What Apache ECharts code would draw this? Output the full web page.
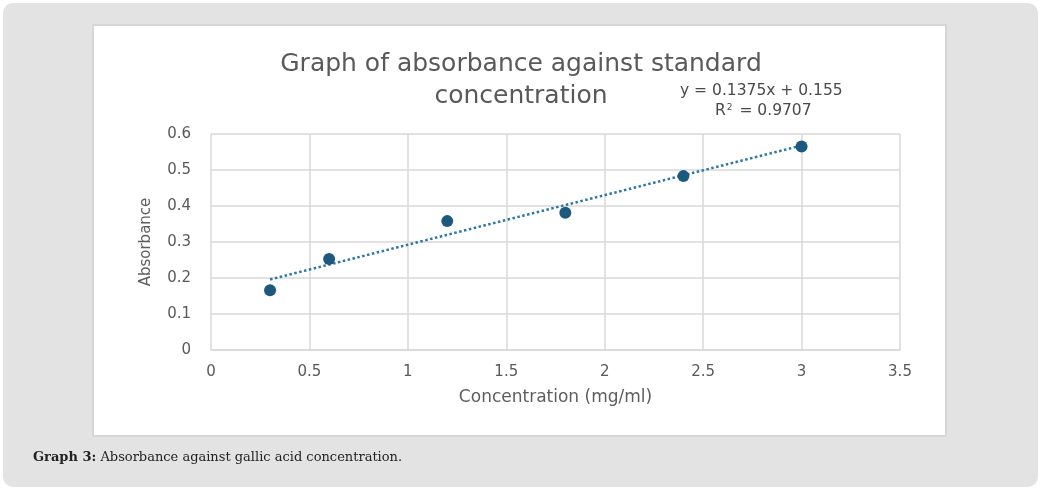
<!DOCTYPE html>
<html><head><meta charset="utf-8">
<script src="https://cdn.jsdelivr.net/npm/echarts@6/dist/echarts.min.js"></script>
<style>html,body{margin:0;padding:0;background:#fff;}#c{width:1044px;height:492px;}</style>
</head><body><div id="c"></div>
<script>
const concentration = [0.3, 0.6, 1.2, 1.8, 2.4, 3.0];
const absorbance = [0.166, 0.253, 0.358, 0.381, 0.483, 0.565];
const trendX = [0.3, 3.0];
const trendY = [0.196, 0.568];
const titleText = 'Graph of absorbance against standard\nconcentration';
const eqText = 'y = 0.1375x + 0.155';
const r2Text = 'R{s|2} = 0.9707';
const captionBold = 'Graph 3:';
const captionRest = ' Absorbance against gallic acid concentration.';

const font = '"DejaVu Sans", sans-serif';
const serif = '"DejaVu Serif", serif';
const grey = '#595959';
const chart = echarts.init(document.getElementById('c'));
chart.setOption({
  animation: false,
  graphic: [
    {type:'rect', shape:{x:3,y:3,width:1035,height:484,r:10}, style:{fill:'#e3e3e3'}, z:-10},
    {type:'rect', shape:{x:93,y:25,width:853,height:411}, style:{fill:'#fff', stroke:'#d6d6d6', lineWidth:2}, z:-9},
    {type:'text', x:33, y:451, style:{text:'{b|'+captionBold+'}'+captionRest, fontFamily:serif, fontSize:13, fill:'#222',
      rich:{b:{fontWeight:'bold', fontFamily:serif, fontSize:13, fill:'#222'}}}},
    {type:'text', x:521, y:48, style:{text:titleText, textAlign:'center', fontFamily:font, fontSize:25, fill:grey, lineHeight:32}},
    {type:'text', x:680, y:83, style:{text:eqText, fontFamily:font, fontSize:15.5, fill:'#4a4a4a'}},
    {type:'text', x:715, y:103, style:{text:r2Text, fontFamily:font, fontSize:15.5, fill:'#4a4a4a',
      rich:{s:{fontSize:9, fontFamily:font, verticalAlign:'top', fill:'#4a4a4a', padding:[0,2,7,1]}}}}
  ],
  grid: {left:211, right:144, top:134, bottom:142, containLabel:false},
  xAxis: {
    type:'value', min:0, max:3.5, interval:0.5,
    name:'Concentration (mg/ml)', nameLocation:'middle', nameGap:39,
    nameTextStyle:{color:'#5e5e5e', fontSize:17, fontFamily:font},
    axisLine:{show:true, lineStyle:{color:'#d9d9d9', width:1.5}},
    axisTick:{show:false},
    axisLabel:{color:grey, fontSize:15, fontFamily:font, margin:15, formatter:v=>String(v)},
    splitLine:{show:true, lineStyle:{color:'#d9d9d9', width:1.5}}
  },
  yAxis: {
    type:'value', min:0, max:0.6, interval:0.1,
    name:'Absorbance', nameLocation:'middle', nameGap:57,
    nameTextStyle:{color:'#5e5e5e', fontSize:15, fontFamily:font},
    axisLine:{show:false},
    axisTick:{show:false},
    axisLabel:{color:grey, fontSize:15, fontFamily:font, margin:20, formatter:v=>String(+v.toFixed(1))},
    splitLine:{show:true, lineStyle:{color:'#d9d9d9', width:1.5}}
  },
  series: [
    {type:'line', data: trendX.map((x,i)=>[x, trendY[i]]), symbol:'none',
      lineStyle:{type:'dotted', width:2.5, color:'#2b78a3'}, z:2},
    {type:'scatter', data: concentration.map((x,i)=>[x, absorbance[i]]), symbolSize:12,
      itemStyle:{color:'#1b5a7e', opacity:1}, z:3}
  ]
});
</script></body></html>
